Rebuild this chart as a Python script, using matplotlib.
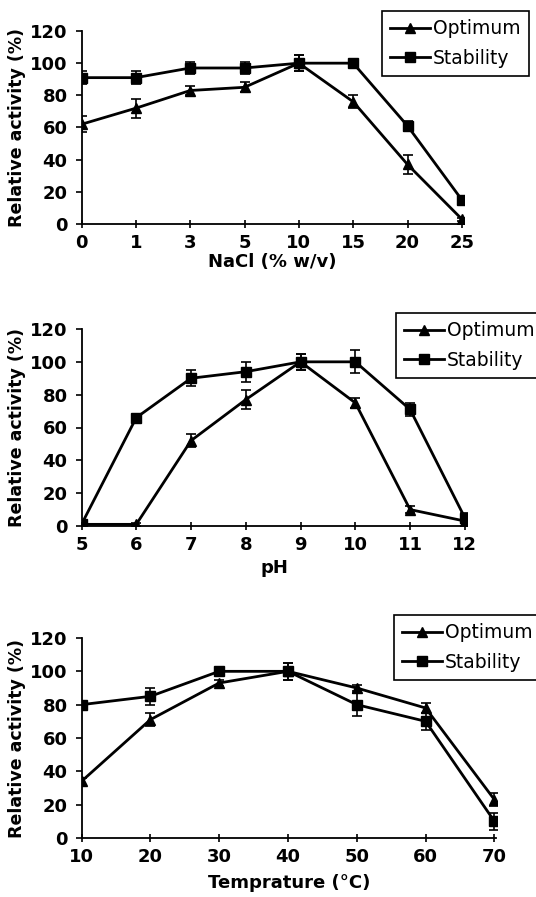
import matplotlib
matplotlib.use("Agg")
import matplotlib.pyplot as plt
from matplotlib.lines import Line2D

plt.rcParams['font.family'] = ['DejaVu Sans']

# NaCl panel
nacl_labels = ['0', '1', '3', '5', '10', '15', '20', '25']
nacl_opt = [62, 72, 83, 85, 100, 76, 37, 3]
nacl_opt_err = [5, 6, 3, 3, 5, 4, 6, 1]
nacl_stab = [91, 91, 97, 97, 100, 100, 61, 15]
nacl_stab_err = [4, 4, 4, 4, 5, 1, 3, 1]

# pH panel
ph_labels = ['5', '6', '7', '8', '9', '10', '11', '12']
ph_opt = [1, 1, 52, 77, 100, 75, 10, 3]
ph_opt_err = [1, 1, 4, 6, 5, 3, 2, 1]
ph_stab = [1, 66, 90, 94, 100, 100, 71, 5]
ph_stab_err = [1, 1, 5, 6, 5, 7, 4, 3]

# temperature panel
temp_labels = ['10', '20', '30', '40', '50', '60', '70']
temp_opt = [34, 71, 93, 100, 90, 78, 23]
temp_opt_err = [2, 4, 2, 5, 2, 3, 4]
temp_stab = [80, 85, 100, 100, 80, 70, 10]
temp_stab_err = [1, 5, 1, 5, 7, 5, 5]

W, H = 536, 897
fig = plt.figure(figsize=(W / 100, H / 100), dpi=100)


def panel(rect, labels, opt, opt_err, stab, stab_err, xlabel, xpad, leg_anchor):
    ax = fig.add_axes(rect)
    x = list(range(len(labels)))
    ax.errorbar(x, opt, yerr=opt_err, color='black', lw=2.0, marker='^', ms=7.5,
                capsize=3.5, elinewidth=1.2, capthick=1.2, zorder=3)
    ax.errorbar(x, stab, yerr=stab_err, color='black', lw=2.0, marker='s', ms=6.5,
                capsize=3.5, elinewidth=1.2, capthick=1.2, zorder=3)
    ax.set_xlim(0, len(labels) - 1 + 0.03)
    ax.set_ylim(0, 120)
    ax.set_yticks(range(0, 121, 20))
    ax.set_xticks(x)
    ax.set_xticklabels(labels)
    for s in ['top', 'right']:
        ax.spines[s].set_visible(False)
    for s in ['left', 'bottom']:
        ax.spines[s].set_linewidth(1.3)
    ax.tick_params(axis='y', direction='out', length=4, width=1.2, pad=6, labelsize=13)
    ax.tick_params(axis='x', direction='inout', length=6, width=1.2, pad=4, labelsize=13)
    for t in ax.get_xticklabels() + ax.get_yticklabels():
        t.set_fontweight('bold')
    ax.set_ylabel('Relative activity (%)', fontsize=12.5, fontweight='bold', labelpad=3)
    ax.set_xlabel(xlabel, fontsize=13, fontweight='bold', labelpad=xpad)
    handles = [Line2D([], [], color='black', lw=2.0, marker='^', ms=7.5),
               Line2D([], [], color='black', lw=2.0, marker='s', ms=6.5)]
    leg = fig.legend(handles=handles, labels=['Optimum', 'Stability'], loc='upper left',
                     bbox_to_anchor=leg_anchor, bbox_transform=fig.transFigure,
                     borderaxespad=0, fancybox=False, edgecolor='black',
                     framealpha=1, fontsize=13.5, numpoints=1,
                     handlelength=2.1, handletextpad=0.15, borderpad=0.45,
                     labelspacing=0.55)
    leg.get_frame().set_linewidth(1.2)
    return ax


panel([81.5 / W, 1 - 224 / H, 382 / W, 193 / H], nacl_labels, nacl_opt, nacl_opt_err,
      nacl_stab, nacl_stab_err, 'NaCl (% w/v)', 1, (382 / W, 1 - 11 / H))
panel([81.5 / W, 1 - 526 / H, 385 / W, 197 / H], ph_labels, ph_opt, ph_opt_err,
      ph_stab, ph_stab_err, 'pH', 4, (396 / W, 1 - 313 / H))
panel([81.5 / W, 1 - 838 / H, 415 / W, 200 / H], temp_labels, temp_opt, temp_opt_err,
      temp_stab, temp_stab_err, 'Temprature (°C)', 6, (394 / W, 1 - 615 / H))

fig.savefig('out.png', dpi=100)
